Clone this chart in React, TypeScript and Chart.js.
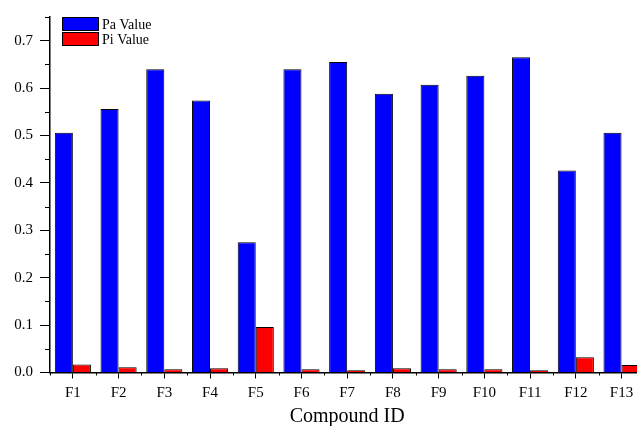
import React, { useEffect, useRef } from 'react';
import { Chart, registerables } from 'chart.js';

Chart.register(...registerables);

const categories = ['F1', 'F2', 'F3', 'F4', 'F5', 'F6', 'F7', 'F8', 'F9', 'F10', 'F11', 'F12', 'F13'];
const paValues = [0.506, 0.556, 0.640, 0.574, 0.275, 0.640, 0.655, 0.588, 0.607, 0.626, 0.665, 0.426, 0.506];
const piValues = [0.017, 0.011, 0.007, 0.009, 0.096, 0.007, 0.005, 0.009, 0.007, 0.007, 0.005, 0.032, 0.016];
const seriesLabels = ['Pa Value', 'Pi Value'];
const yMajorTicks = [0, 0.1, 0.2, 0.3, 0.4, 0.5, 0.6, 0.7];
const yMinorTicks = [0.05, 0.15, 0.25, 0.35, 0.45, 0.55, 0.65, 0.75];
const xTitle = 'Compound ID';

const FONT = "'Liberation Serif', 'Times New Roman', serif";

const decorPlugin = {
  id: 'decor',
  afterDraw(chart: any) {
    const ctx = chart.ctx;
    const xs = chart.scales.x;
    const ys = chart.scales.y;
    const area = chart.chartArea;
    ctx.save();
    ctx.strokeStyle = '#000';
    ctx.lineWidth = 1;
    // y minor ticks
    yMinorTicks.forEach((v) => {
      const py = Math.round(ys.getPixelForValue(v)) + 0.5;
      ctx.beginPath();
      ctx.moveTo(area.left - 5, py);
      ctx.lineTo(area.left, py);
      ctx.stroke();
    });
    // x minor ticks at category boundaries
    for (let i = 0; i <= categories.length; i++) {
      const px = Math.round(xs.getPixelForValue(i - 0.5)) + 0.5;
      ctx.beginPath();
      ctx.moveTo(px, area.bottom);
      ctx.lineTo(px, area.bottom + 3);
      ctx.stroke();
    }
    // legend inside plot area
    const ds = chart.data.datasets;
    const boxW = 37;
    const boxH = 14;
    const x0 = area.left + 12;
    let y0 = area.top;
    ctx.font = `14px ${FONT}`;
    ctx.textBaseline = 'middle';
    ctx.textAlign = 'left';
    ds.forEach((d: any) => {
      ctx.fillStyle = d.backgroundColor;
      ctx.fillRect(x0, y0, boxW, boxH);
      ctx.strokeStyle = '#000';
      ctx.strokeRect(x0 + 0.5, y0 + 0.5, boxW - 1, boxH - 1);
      ctx.fillStyle = '#000';
      ctx.fillText(d.label, x0 + boxW + 3, y0 + boxH / 2 + 1);
      y0 += boxH + 1;
    });
    ctx.restore();
  },
};

export default function App() {
  const canvasRef = useRef<HTMLCanvasElement | null>(null);

  useEffect(() => {
    document.body.style.margin = '0';
    const canvas = canvasRef.current;
    if (!canvas) return;
    const chart = new Chart(canvas, {
      type: 'bar',
      data: {
        labels: categories,
        datasets: [
          {
            label: seriesLabels[0],
            data: paValues,
            backgroundColor: '#0000FF',
            borderColor: '#000000',
            borderWidth: 1,
            barPercentage: 1,
            categoryPercentage: 0.79,
          },
          {
            label: seriesLabels[1],
            data: piValues,
            backgroundColor: '#FF0000',
            borderColor: '#000000',
            borderWidth: 1,
            barPercentage: 1,
            categoryPercentage: 0.79,
          },
        ],
      },
      options: {
        responsive: false,
        animation: false,
        devicePixelRatio: 1,
        layout: { padding: { top: 17, right: 15.6, left: 0, bottom: 0 } },
        plugins: {
          legend: { display: false },
          tooltip: { enabled: false },
        },
        scales: {
          x: {
            type: 'category',
            offset: true,
            grid: {
              display: true,
              drawOnChartArea: false,
              offset: false,
              tickLength: 6,
              color: '#000',
              lineWidth: 1,
            },
            border: { display: true, color: '#000', width: 1.5 },
            ticks: {
              color: '#000',
              font: { family: FONT, size: 15 },
              padding: 6,
              maxRotation: 0,
              autoSkip: false,
            },
            title: {
              display: true,
              text: xTitle,
              color: '#000',
              font: { family: FONT, size: 20, lineHeight: 0.9 },
              padding: { top: 0, bottom: 0 },
            },
            afterFit: (scale: any) => {
              scale.height = 53.5;
            },
          },
          y: {
            type: 'linear',
            min: 0,
            max: 0.75,
            grid: {
              display: true,
              drawOnChartArea: false,
              tickLength: 10,
              color: '#000',
              lineWidth: 1,
            },
            border: { display: true, color: '#000', width: 1.5 },
            ticks: {
              stepSize: 0.1,
              color: '#000',
              font: { family: FONT, size: 15 },
              padding: 7,
              callback: (v: any) => Number(v).toFixed(1),
            },
            afterBuildTicks: (scale: any) => {
              scale.ticks = yMajorTicks.map((v) => ({ value: v }));
            },
            afterFit: (scale: any) => {
              scale.width = 50;
            },
          },
        },
      },
      plugins: [decorPlugin],
    });
    return () => chart.destroy();
  }, []);

  return (
    <div style={{ width: 637, height: 426, overflow: 'hidden', position: 'relative' }}>
      <canvas ref={canvasRef} width={660} height={426} style={{ display: 'block' }} />
    </div>
  );
}
